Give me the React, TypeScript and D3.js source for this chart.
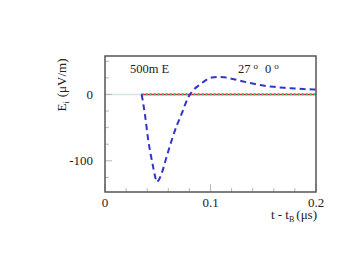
import React from 'react';
import * as d3 from 'd3';

// time (us) and field (uV/m)
const blueT = [0.0348, 0.038, 0.041, 0.0435, 0.046, 0.048, 0.049, 0.0505, 0.0537, 0.058, 0.0632, 0.068, 0.0727, 0.076, 0.079, 0.0837, 0.09, 0.095, 0.1, 0.107, 0.115, 0.122, 0.13, 0.14, 0.15, 0.16, 0.17, 0.18, 0.19, 0.2];
const blueE = [0, -32, -69, -92, -112, -127, -132, -130, -119, -96, -69, -47, -29, -15, -4, 6.5, 15, 21, 25, 26.5, 25.5, 23, 20, 16.5, 13.5, 11.5, 10, 9, 8, 7.5];
const redT = [0.0348, 0.0348, 0.2];
const redE = [-3, 0, 0];
const greenT = [0.0348, 0.2];
const greenE = [0.3, 0.3];
const baseT = [0, 0.0348];
const baseE = [0, 0];

const xTicksMajor = [0, 0.1, 0.2];
const xTicksMinor = [0.02, 0.04, 0.06, 0.08, 0.12, 0.14, 0.16, 0.18];
const yTicksMajor = [0, -100];
const yTicksMinor = [50, 25, -25, -50, -75, -125];

const W = 356;
const H = 267;
const m = { left: 105, top: 56, right: 316, bottom: 192 };

const App: React.FC = () => {
  const x = d3.scaleLinear().domain([0, 0.2]).range([m.left, m.right]);
  const y = d3.scaleLinear().domain([58, -147]).range([m.top, m.bottom]);

  const line = (ts: number[], es: number[]) =>
    d3
      .line<number>()
      .x((t) => x(t))
      .y((_, i) => y(es[i]))
      .curve(d3.curveMonotoneX)(ts) || '';
  const straight = (ts: number[], es: number[]) =>
    d3
      .line<number>()
      .x((t) => x(t))
      .y((_, i) => y(es[i]))(ts) || '';

  const tickCol = '#b8b8b8';
  const ink = '#222';

  return (
    <div style={{ position: 'fixed', left: 0, top: 0 }}>
      <svg width={W} height={H} style={{ fontFamily: '"Liberation Serif", "DejaVu Serif", serif' }}>
        <rect width={W} height={H} fill="#fff" />
        <path d={straight(baseT, baseE)} stroke="#cfe8e4" strokeWidth={1.5} fill="none" />

        {/* ticks */}
        {yTicksMinor.map((v) => (
          <line key={'ym' + v} x1={x(0)} x2={x(0) + 4} y1={y(v)} y2={y(v)} stroke={tickCol} />
        ))}
        {yTicksMajor.map((v) => (
          <line key={'yM' + v} x1={x(0)} x2={x(0) + 7} y1={y(v)} y2={y(v)} stroke={tickCol} />
        ))}
        {xTicksMinor.map((v) => (
          <line key={'xm' + v} x1={x(v)} x2={x(v)} y1={m.bottom} y2={m.bottom - 4} stroke={tickCol} />
        ))}
        {xTicksMajor.map((v) => (
          <line key={'xM' + v} x1={x(v)} x2={x(v)} y1={m.bottom} y2={m.bottom - 8} stroke={tickCol} />
        ))}

        {/* data */}
        <path d={straight(redT, redE)} stroke="#ee2222" strokeWidth={1.6} fill="none" />
        <path d={straight(greenT, greenE)} stroke="#33bb88" strokeWidth={2} strokeDasharray="2,2" fill="none" />
        <path d={line(blueT, blueE)} stroke="#3333cc" strokeWidth={2} strokeDasharray="6,4" fill="none" />

        {/* frame */}
        <rect
          x={m.left}
          y={m.top}
          width={m.right - m.left}
          height={m.bottom - m.top}
          fill="none"
          stroke="#555"
          strokeWidth={1.5}
        />

        {/* tick labels */}
        {xTicksMajor.map((v) => (
          <text key={'xl' + v} x={x(v)} y={207} fontSize={13} textAnchor="middle" fill={ink}>
            {v === 0 ? '0' : v.toFixed(1)}
          </text>
        ))}
        {yTicksMajor.map((v) => (
          <text key={'yl' + v} x={93} y={y(v) + 4.5} fontSize={13} textAnchor="end" fill={ink}>
            {v}
          </text>
        ))}

        {/* annotations */}
        <text x={130} y={73} fontSize={12.5} fill={ink}>500m E</text>
        <text x={238} y={73} fontSize={12.5} fill={ink}>
          27
          <tspan dx={3} dy={-4} fontSize={9}>o</tspan>
          <tspan dx={7} dy={4} fontSize={12.5}>0</tspan>
          <tspan dx={3} dy={-4} fontSize={9}>o</tspan>
        </text>

        {/* axis titles */}
        <text x={317} y={219} fontSize={13} textAnchor="end" fill={ink}>
          t - t
          <tspan fontSize={8} dy={3}>B</tspan>
          <tspan dy={-3} dx={2}>(μs)</tspan>
        </text>
        <text transform="translate(66,85) rotate(-90)" fontSize={13} textAnchor="middle" fill={ink}>
          E
          <tspan fontSize={8} dy={3}>i</tspan>
          <tspan dy={-3} dx={4}>(μV/m)</tspan>
        </text>
      </svg>
    </div>
  );
};

export default App;
